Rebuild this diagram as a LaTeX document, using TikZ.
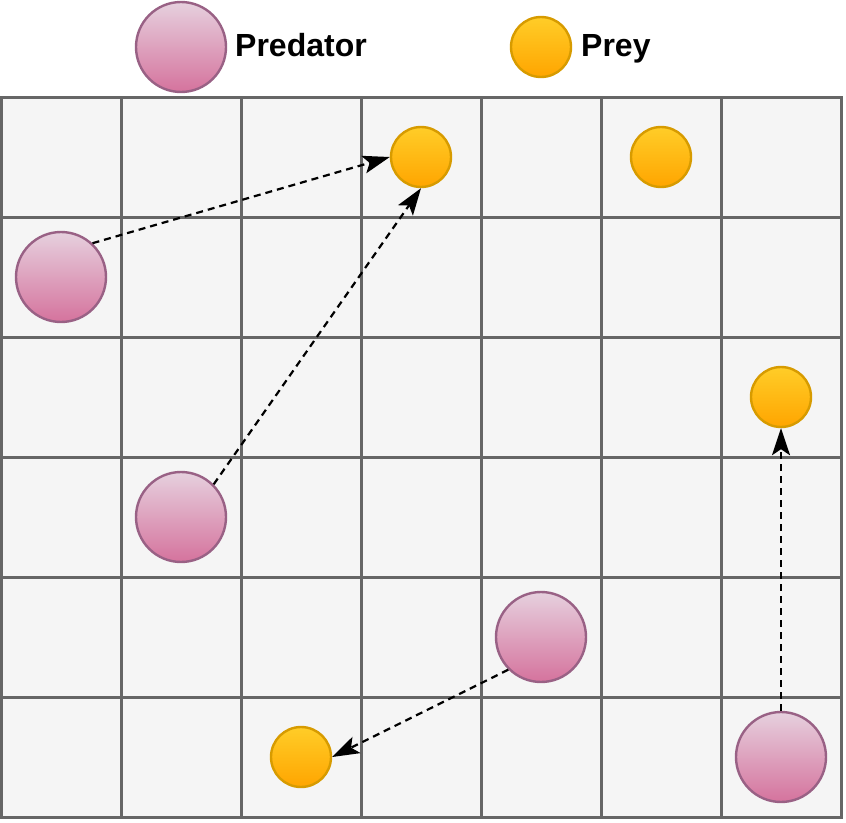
\documentclass[tikz,border=0pt]{standalone}
\usepackage{fontspec}
\setmainfont{Liberation Sans}
\usetikzlibrary{arrows.meta}
\definecolor{gridfill}{HTML}{F5F5F5}
\definecolor{gridline}{HTML}{666666}
\definecolor{predtop}{HTML}{E6D0DE}
\definecolor{predbot}{HTML}{D5739D}
\definecolor{predline}{HTML}{996185}
\definecolor{preytop}{HTML}{FFCD28}
\definecolor{preybot}{HTML}{FFA500}
\definecolor{preyline}{HTML}{D79B00}
\tikzset{
  predator/.style={circle, minimum size=90pt, inner sep=0pt, draw=predline, line width=2.4pt, top color=predtop, bottom color=predbot},
  prey/.style={circle, minimum size=60pt, inner sep=0pt, draw=preyline, line width=2.4pt, top color=preytop, bottom color=preybot},
  legendtext/.style={anchor=base west, inner sep=0pt, font=\fontsize{32}{38}\selectfont\bfseries},
  chase/.style={dash pattern=on 7pt off 5pt, line width=2.2pt, -{Stealth[length=27pt,width=18pt,inset=6pt]}},
}
\begin{document}
\begin{tikzpicture}[x=1pt,y=-1pt]
\useasboundingbox (0,0) rectangle (846,822);
% grid
\fill[gridfill] (1,97) rectangle (841,817);
\foreach \x in {1.5,121,241,361,481,601,721,841}
  \draw[gridline, line width=3pt] (\x,97) -- (\x,817);
\foreach \y in {97,217,337,457,577,697,817}
  \draw[gridline, line width=3pt] (0,\y) -- (842.5,\y);
% legend
\node[predator] (lp) at (181,47) {};
\node[legendtext] (lt1) at (235,56) {Predator};
\node[prey] (ly) at (541,47) {};
\node[legendtext] (lt2) at (581,56) {Prey};
% predators
\node[predator] (p1) at (61,277) {};
\node[predator] (p2) at (181,517) {};
\node[predator] (p3) at (541,637) {};
\node[predator] (p4) at (781,757) {};
% prey
\node[prey] (y1) at (421,157) {};
\node[prey] (y2) at (661,157) {};
\node[prey] (y3) at (781,397) {};
\node[prey] (y4) at (301,757) {};
% chases
\draw[chase] (p1.47) -- (y1.west);
\draw[chase] (p2.45) -- (y1.south);
\draw[chase] (p3.225) -- (y4.east);
\draw[chase] (p4.north) -- (y3.south);
\end{tikzpicture}
\end{document}
